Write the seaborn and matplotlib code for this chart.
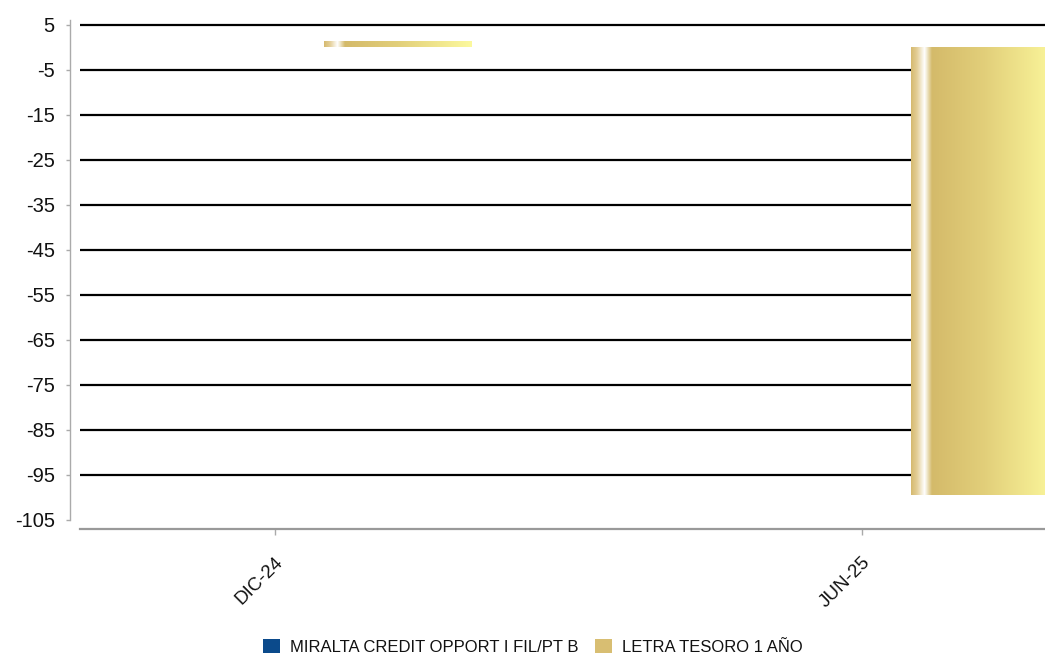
import numpy as np
import pandas as pd
import matplotlib
matplotlib.use("Agg")
import matplotlib.pyplot as plt
from matplotlib.colors import LinearSegmentedColormap, to_rgb
from matplotlib.patches import Patch
import seaborn as sns

# ---- data ----
categories = ["DIC-24", "JUN-25"]
series_names = ["MIRALTA CREDIT OPPORT I FIL/PT B", "LETRA TESORO 1 AÑO"]
miralta_values = [0.0, 0.0]
letra_values = [1.4, -99.4]
y_ticks = [5, -5, -15, -25, -35, -45, -55, -65, -75, -85, -95, -105]

colors = ["#0B4A8B", "#D8BE72"]

sns.set_theme(style="white")
plt.rcParams["font.family"] = ["Liberation Sans", "DejaVu Sans"]

df = pd.DataFrame({
    "cat": categories * 2,
    "series": [series_names[0]] * len(categories) + [series_names[1]] * len(categories),
    "value": miralta_values + letra_values,
})

W, H = 1045, 661
fig = plt.figure(figsize=(W / 100, H / 100), dpi=100)
ax = fig.add_axes([80 / W, 1 - 529 / H, 1 - 80 / W, (529 - 20) / H])

sns.barplot(data=df, x="cat", y="value", hue="series", order=categories,
            hue_order=series_names, palette=colors, width=0.504, saturation=1,
            errorbar=None, legend=False, ax=ax, linewidth=0, zorder=2)

# gradient fill for the gold bars
stops = [(0.0, "#D6BA70"), (0.04, "#E4CF98"), (0.09, "#FFFFFF"), (0.14, "#D4BA6A"),
         (0.5, "#E2CF7A"), (0.88, "#F6EF95"), (1.0, "#FCF99E")]
cmap = LinearSegmentedColormap.from_list("gold", stops)
grad = np.linspace(0, 1, 256)[None, :]
gold_rgb = np.array(to_rgb(colors[1]))
for p in list(ax.patches):
    fc = np.array(p.get_facecolor()[:3])
    if np.allclose(fc, gold_rgb, atol=0.02):
        p.set_x(p.get_x() + 0.083)
        x0, w = p.get_x(), p.get_width()
        y0, h = p.get_y(), p.get_height()
        if h == 0:
            continue
        im = ax.imshow(grad, cmap=cmap, aspect="auto",
                       extent=[x0, x0 + w, min(y0, y0 + h), max(y0, y0 + h)],
                       zorder=3, interpolation="bilinear")
        im.set_clip_path(p)

# gridlines (not at the lowest tick)
for t in y_ticks[:-1]:
    ax.axhline(t, color="black", lw=1.6, zorder=1)

ax.set_xlim(-0.332, 1.312)
ax.set_ylim(-107.0, 6.1)
ax.set_yticks(y_ticks)
ax.set_yticklabels([str(t) for t in y_ticks])
ax.set_xticks(range(len(categories)))
ax.set_xticklabels(categories, rotation=45, ha="right", rotation_mode="anchor")
ax.set_xlabel("")
ax.set_ylabel("")

for s in ["top", "right"]:
    ax.spines[s].set_visible(False)
ax.spines["left"].set_position(("outward", 7.2))
ax.spines["left"].set_color("#AAAAAA")
ax.spines["left"].set_linewidth(1.0)
ax.spines["left"].set_bounds(-105, 6.1)
ax.spines["bottom"].set_color("#999999")
ax.spines["bottom"].set_linewidth(1.6)

ax.tick_params(axis="y", left=True, length=3, width=1, color="#AAAAAA",
               labelsize=14.5, labelcolor="#111111", pad=8)
ax.tick_params(axis="x", bottom=True, length=4, width=1, color="#AAAAAA",
               labelsize=13.5, labelcolor="#111111", pad=14)

handles = [Patch(facecolor=c, edgecolor="none", label=n) for c, n in zip(colors, series_names)]
fig.legend(handles=handles, loc="center", bbox_to_anchor=(533 / W, 1 - 647 / H),
           ncol=2, frameon=False, fontsize=12, handlelength=1.0, handleheight=0.9,
           handletextpad=0.6, columnspacing=1.0, labelcolor="#111111")

fig.savefig("out.png", dpi=100)
